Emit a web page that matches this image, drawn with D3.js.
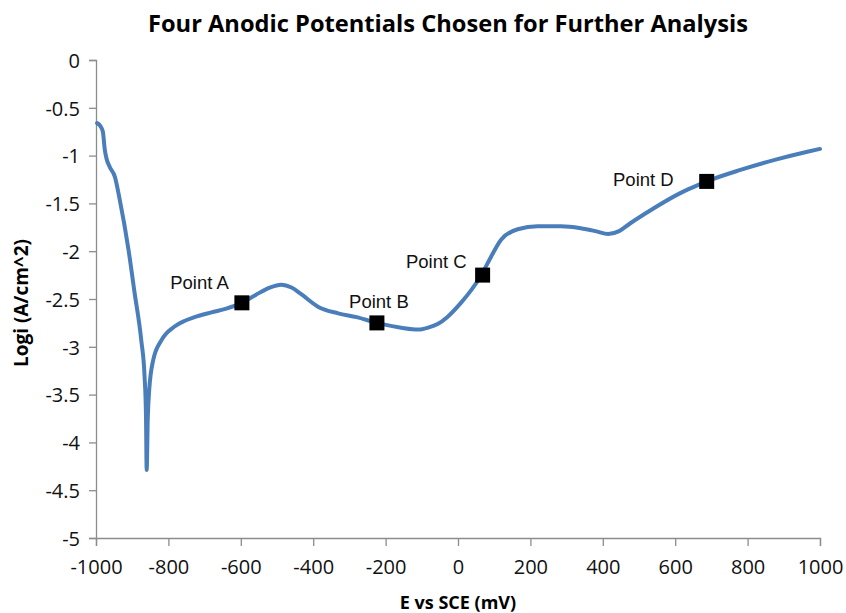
<!DOCTYPE html>
<html>
<head>
<meta charset="utf-8">
<script src="https://cdn.jsdelivr.net/npm/d3@7"></script>
<style>
  body { margin: 0; background: #fff; }
  svg { display: block; }
  .tick text { font-family: "Open Sans", "Liberation Sans", sans-serif; }
</style>
</head>
<body>
<div id="chart"></div>
<script>
// polarization curve
const potentialMv = [-997, -988, -981, -976, -971, -962, -948, -935, -910, -894, -875, -866, -862, -860,
  -857, -853, -842, -819, -784, -756, -728, -681, -640, -597, -560, -520, -488, -460, -433, -387,
  -331, -280, -224, -157, -110, -83, -55, -30, 8, 36, 66, 91, 119, 165, 220, 284, 339, 380, 415,
  445, 475, 541, 610, 650, 687, 780, 880, 965, 1000];
const logCurrent = [-0.66, -0.69, -0.75, -0.93, -1.03, -1.12, -1.22, -1.45, -1.99, -2.42, -2.93, -3.3, -3.7, -4.29,
  -3.75, -3.45, -3.14, -2.93, -2.79, -2.73, -2.69, -2.64, -2.6, -2.54, -2.46, -2.38, -2.35, -2.38, -2.45, -2.58,
  -2.65, -2.69, -2.75, -2.8, -2.82, -2.8, -2.76, -2.69, -2.54, -2.41, -2.24, -2.06, -1.88, -1.77, -1.74, -1.74, -1.76, -1.79, -1.82,
  -1.79, -1.71, -1.55, -1.4, -1.33, -1.27, -1.15, -1.04, -0.96, -0.93];

// the four chosen potentials
const pointNames = ["Point A", "Point B", "Point C", "Point D"];
const pointMv = [-597, -224, 68, 687];
const pointLog = [-2.54, -2.75, -2.25, -1.27];

const xTicks = d3.range(-1000, 1001, 200);
const yTicks = d3.range(0, -5.01, -0.5);

const width = 846, height = 613;
const margin = {top: 60, right: 26, bottom: 75, left: 96};

const svg = d3.select("#chart").append("svg")
    .attr("width", width)
    .attr("height", height);

const x = d3.scaleLinear().domain([-1000, 1000]).range([margin.left, width - margin.right]);
const y = d3.scaleLinear().domain([-5, 0]).range([height - margin.bottom, margin.top]);

// axes
const xAxis = svg.append("g")
    .attr("transform", `translate(0,${y(-5)})`)
    .call(d3.axisBottom(x).tickValues(xTicks).tickFormat(d => String(d)).tickSize(8));
const yAxis = svg.append("g")
    .attr("transform", `translate(${x(-1000)},0)`)
    .call(d3.axisLeft(y).tickValues(yTicks).tickFormat(d => String(Math.round(d * 10) / 10)).tickSize(7).tickPadding(9));

[xAxis, yAxis].forEach(g => {
  g.select(".domain").attr("stroke", "#8c8c8c").attr("stroke-width", 1.3);
  g.selectAll(".tick line").attr("stroke", "#8c8c8c").attr("stroke-width", 1.3);
  g.selectAll(".tick text").attr("fill", "#111").style("font-size", "20px");
});
yAxis.selectAll(".tick text").attr("dy", "0.36em");
xAxis.selectAll(".tick text").attr("y", 29).attr("dy", "0.36em");

// curve
const curve = potentialMv.map((e, i) => [e, logCurrent[i]]);
const line = d3.line()
    .x(d => x(d[0]))
    .y(d => y(d[1]))
    .curve(d3.curveMonotoneX);

svg.append("path")
    .datum(curve)
    .attr("fill", "none")
    .attr("stroke", "#4a7ebb")
    .attr("stroke-width", 4)
    .attr("stroke-linejoin", "round")
    .attr("stroke-linecap", "round")
    .attr("d", line);

// markers
const SQ = 15;
const labelOffset = {
  "Point A": [-13, -20, "end"],
  "Point B": [2, -22, "middle"],
  "Point C": [-16, -14, "end"],
  "Point D": [-33, -2, "end"]
};
pointNames.forEach((name, i) => {
  const cx = x(pointMv[i]), cy = y(pointLog[i]);
  svg.append("rect")
      .attr("x", cx - SQ / 2)
      .attr("y", cy - SQ / 2)
      .attr("width", SQ)
      .attr("height", SQ)
      .attr("fill", "#000");
  const off = labelOffset[name];
  svg.append("text")
      .attr("x", cx + off[0])
      .attr("y", cy + off[1])
      .attr("dy", "0.36em")
      .attr("text-anchor", off[2])
      .style("font-family", "'Liberation Sans', Arial, sans-serif")
      .style("font-size", "18.5px")
      .style("fill", "#111")
      .text(name);
});

// titles
svg.append("text")
    .attr("x", 448)
    .attr("y", 32)
    .attr("text-anchor", "middle")
    .attr("textLength", 600)
    .attr("lengthAdjust", "spacingAndGlyphs")
    .style("font-family", "'Open Sans', sans-serif")
    .style("font-weight", "bold")
    .style("font-size", "23px")
    .text("Four Anodic Potentials Chosen for Further Analysis");

svg.append("text")
    .attr("x", x(0))
    .attr("y", 609)
    .attr("text-anchor", "middle")
    .style("font-family", "'Open Sans', sans-serif")
    .style("font-weight", "bold")
    .style("font-size", "18px")
    .text("E vs SCE (mV)");

svg.append("text")
    .attr("transform", `translate(28,303) rotate(-90)`)
    .attr("text-anchor", "middle")
    .style("font-family", "'Open Sans', sans-serif")
    .style("font-weight", "bold")
    .style("font-size", "19px")
    .text("Logi (A/cm^2)");
</script>
</body>
</html>
